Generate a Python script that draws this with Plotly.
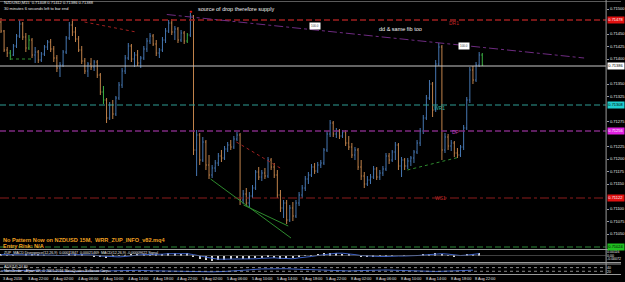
import plotly.graph_objects as go

# ---------------- DATA ----------------
# NZDUSD bars, quotes in points (1 point = 0.00001)
open_pts = [
    71474, 71456, 71418, 71412, 71408, 71426, 71446, 71470, 71444, 71422,
    71438, 71408, 71414, 71398, 71410, 71424, 71434, 71420, 71402, 71382,
    71388, 71414, 71442, 71468, 71454, 71440, 71418, 71396, 71376, 71390,
    71384, 71394, 71368, 71334, 71318, 71282, 71308, 71290, 71322, 71348,
    71376, 71402, 71426, 71400, 71408, 71392, 71402, 71420, 71436, 71446,
    71430, 71412, 71418, 71438, 71456, 71472, 71454, 71460, 71438, 71452,
    71436, 71448, 71486, 71218, 71248, 71198, 71234, 71188, 71168, 71182,
    71192, 71206, 71202, 71220, 71228, 71224, 71240, 71248, 71118, 71130,
    71112, 71126, 71142, 71174, 71164, 71172, 71166, 71198, 71184, 71168,
    71128, 71102, 71112, 71078, 71102, 71086, 71112, 71128, 71142, 71160,
    71168, 71184, 71176, 71188, 71192, 71218, 71250, 71272, 71250, 71256,
    71246, 71254, 71232, 71224, 71208, 71218, 71184, 71166, 71150, 71158,
    71164, 71180, 71164, 71172, 71180, 71206, 71198, 71214, 71228, 71186,
    71198, 71186, 71196, 71202, 71214, 71232, 71256, 71282, 71322, 71350,
    71298, 71390, 71424, 71218, 71244, 71226, 71232, 71212, 71208, 71224,
    71262, 71318, 71378, 71358, 71388, 71408,
]
high_pts = [
    71482, 71458, 71424, 71418, 71430, 71450, 71478, 71474, 71452, 71448,
    71442, 71424, 71418, 71414, 71428, 71438, 71440, 71426, 71408, 71394,
    71418, 71446, 71474, 71480, 71464, 71446, 71426, 71402, 71394, 71402,
    71398, 71398, 71372, 71346, 71322, 71314, 71318, 71326, 71354, 71382,
    71408, 71432, 71430, 71414, 71418, 71406, 71426, 71442, 71452, 71450,
    71438, 71422, 71444, 71462, 71478, 71480, 71466, 71464, 71458, 71456,
    71452, 71492, 71488, 71258, 71252, 71244, 71238, 71208, 71188, 71198,
    71212, 71218, 71226, 71234, 71238, 71246, 71254, 71252, 71138, 71142,
    71134, 71148, 71178, 71184, 71178, 71182, 71204, 71202, 71192, 71178,
    71138, 71118, 71118, 71108, 71114, 71118, 71134, 71148, 71166, 71174,
    71190, 71192, 71194, 71198, 71222, 71256, 71278, 71276, 71262, 71260,
    71258, 71258, 71246, 71232, 71224, 71222, 71198, 71174, 71166, 71170,
    71186, 71184, 71178, 71186, 71212, 71212, 71218, 71234, 71232, 71204,
    71202, 71202, 71206, 71218, 71238, 71262, 71288, 71328, 71358, 71354,
    71398, 71432, 71428, 71252, 71250, 71238, 71236, 71222, 71228, 71268,
    71324, 71384, 71386, 71394, 71414, 71412,
]
low_pts = [
    71452, 71414, 71404, 71398, 71406, 71422, 71442, 71438, 71414, 71418,
    71402, 71392, 71392, 71394, 71406, 71418, 71414, 71394, 71374, 71364,
    71384, 71410, 71438, 71446, 71434, 71414, 71390, 71370, 71364, 71378,
    71376, 71362, 71328, 71310, 71272, 71278, 71280, 71286, 71318, 71342,
    71370, 71398, 71394, 71384, 71386, 71382, 71398, 71414, 71430, 71426,
    71406, 71402, 71414, 71432, 71452, 71448, 71438, 71432, 71434, 71430,
    71432, 71444, 71208, 71166, 71188, 71194, 71178, 71160, 71162, 71174,
    71186, 71194, 71198, 71214, 71218, 71220, 71236, 71108, 71110, 71106,
    71104, 71122, 71138, 71158, 71156, 71160, 71162, 71178, 71162, 71122,
    71094, 71082, 71070, 71074, 71076, 71082, 71106, 71122, 71136, 71150,
    71164, 71170, 71172, 71182, 71188, 71214, 71244, 71244, 71242, 71240,
    71242, 71226, 71218, 71202, 71198, 71178, 71158, 71142, 71146, 71150,
    71160, 71158, 71158, 71166, 71176, 71190, 71194, 71198, 71178, 71164,
    71178, 71180, 71186, 71192, 71210, 71226, 71250, 71278, 71318, 71284,
    71294, 71386, 71198, 71212, 71218, 71216, 71204, 71202, 71204, 71218,
    71258, 71312, 71350, 71354, 71384, 71386,
]
close_pts = [
    71456, 71418, 71412, 71406, 71426, 71446, 71470, 71444, 71422, 71438,
    71408, 71414, 71398, 71410, 71424, 71434, 71420, 71402, 71382, 71388,
    71414, 71442, 71468, 71454, 71440, 71418, 71396, 71376, 71390, 71384,
    71394, 71368, 71334, 71318, 71282, 71308, 71290, 71322, 71348, 71376,
    71402, 71426, 71400, 71408, 71392, 71402, 71420, 71436, 71446, 71430,
    71412, 71418, 71438, 71456, 71472, 71454, 71460, 71438, 71452, 71436,
    71448, 71486, 71218, 71248, 71198, 71234, 71188, 71168, 71182, 71192,
    71206, 71202, 71220, 71228, 71224, 71240, 71248, 71118, 71130, 71112,
    71126, 71142, 71174, 71164, 71172, 71166, 71198, 71184, 71168, 71128,
    71102, 71112, 71078, 71102, 71086, 71112, 71128, 71142, 71160, 71168,
    71184, 71176, 71188, 71192, 71218, 71250, 71272, 71250, 71256, 71246,
    71254, 71232, 71224, 71208, 71218, 71184, 71166, 71150, 71158, 71164,
    71180, 71164, 71172, 71180, 71206, 71198, 71214, 71228, 71186, 71198,
    71186, 71196, 71202, 71214, 71232, 71256, 71282, 71322, 71350, 71298,
    71390, 71424, 71218, 71244, 71226, 71232, 71212, 71208, 71224, 71262,
    71318, 71378, 71358, 71388, 71408, 71388,
]
green_bars = [3, 9, 33, 60, 155]   # bars painted green by the indicator

# time axis labels (one every 8 bars)
time_labels = ["3 Aug 2016", "3 Aug 22:00", "4 Aug 02:00", "4 Aug 06:00", "4 Aug 10:00",
               "4 Aug 14:00", "4 Aug 18:00", "4 Aug 22:00", "5 Aug 02:00", "5 Aug 06:00",
               "5 Aug 10:00", "5 Aug 14:00", "5 Aug 18:00", "5 Aug 22:00", "8 Aug 02:00",
               "8 Aug 06:00", "8 Aug 10:00", "8 Aug 14:00", "8 Aug 18:00", "8 Aug 22:00"]

# MACD histogram / signal (every 2nd bar)
macd_hist = [0.0002, 0.0001, -0.0001, 0.0000, 0.0002, 0.0003, 0.0002, 0.0001, 0.0000, -0.0001,
             0.0001, 0.0003, 0.0004, 0.0002, 0.0000, -0.0002, -0.0004, -0.0005, -0.0003, -0.0001,
             0.0001, 0.0003, 0.0002, 0.0002, 0.0004, 0.0004, 0.0003, 0.0005, 0.0005, 0.0004,
             0.0005, -0.0004, -0.0008, -0.0010, -0.0011, -0.0010, -0.0009, -0.0007, -0.0006, -0.0008,
             -0.0008, -0.0006, -0.0005, -0.0004, -0.0005, -0.0007, -0.0008, -0.0006, -0.0003, -0.0001,
             0.0001, 0.0003, 0.0005, 0.0006, 0.0005, 0.0004, 0.0002, 0.0000, -0.0002, -0.0003,
             -0.0002, -0.0001, -0.0002, -0.0001, 0.0000, -0.0001, 0.0000, 0.0001, 0.0003, 0.0004,
             0.0006, 0.0003, 0.0001, -0.0002, 0.0000, 0.0003, 0.0004, 0.0005]
macd_signal = [0.0002, 0.0002, 0.0001, 0.0001, 0.0001, 0.0002, 0.0002, 0.0002, 0.0001, 0.0000,
               0.0000, 0.0001, 0.0002, 0.0002, 0.0002, 0.0001, -0.0001, -0.0002, -0.0003, -0.0003,
               -0.0002, 0.0000, 0.0001, 0.0002, 0.0002, 0.0003, 0.0003, 0.0004, 0.0004, 0.0004,
               0.0004, 0.0002, -0.0001, -0.0004, -0.0006, -0.0008, -0.0008, -0.0008, -0.0007, -0.0007,
               -0.0008, -0.0007, -0.0006, -0.0005, -0.0005, -0.0006, -0.0007, -0.0007, -0.0005, -0.0004,
               -0.0002, 0.0000, 0.0002, 0.0004, 0.0005, 0.0005, 0.0004, 0.0002, 0.0000, -0.0001,
               -0.0002, -0.0002, -0.0002, -0.0001, -0.0001, -0.0001, -0.0001, 0.0000, 0.0001, 0.0002,
               0.0004, 0.0004, 0.0003, 0.0001, 0.0000, 0.0001, 0.0002, 0.0004]

# ADX(14) (every 4th bar)
adx_values = [22, 24, 25, 23, 21, 19, 18, 20, 22, 24, 26, 25, 23, 21, 20, 19, 18, 17, 19, 22,
              28, 33, 35, 34, 31, 28, 25, 23, 22, 24, 26, 27, 25, 22, 20, 19, 21, 24, 26]

# pivot levels
levels = [  # name, price, colour, dash, width
    ("DR1", 0.71478, "#9E1F1F", "6px,3px", 1.3),
    ("", 0.71386, "#C8C8C8", "solid", 1),
    ("WR1", 0.71308, "#2F9C94", "6px,3px", 1.2),
    ("DP", 0.71256, "#7E2A80", "6px,3px", 1.6),
    ("WS1", 0.71122, "#8C1C1C", "dashdot", 1),
    ("", 0.71024, "#2E8B3A", "6px,3px", 1),
]
tag_colors = ["#E01010", "#FFFFFF", "#20D0D0", "#E020E0", "#E01010", "#20C020"]
tag_text_colors = ["white", "black", "black", "white", "white", "black"]

# ---------------- FIGURE ----------------
to_price = lambda v: v / 1e5
n = len(close_pts)
idx = list(range(n))
main_idx = [i for i in idx if i not in green_bars]

W, H = 625, 282
PLOT_R = 610 / W
def py(y):  # pixel from top -> paper
    return (H - y) / H

fig = go.Figure()
fig.add_trace(go.Ohlc(
    x=main_idx,
    open=[to_price(open_pts[i]) for i in main_idx],
    high=[to_price(high_pts[i]) for i in main_idx],
    low=[to_price(low_pts[i]) for i in main_idx],
    close=[to_price(close_pts[i]) for i in main_idx],
    increasing_line_color="#4677B2", decreasing_line_color="#C0824A",
    line_width=1, tickwidth=0.3, hoverinfo="skip"))
fig.add_trace(go.Ohlc(
    x=green_bars,
    open=[to_price(open_pts[i]) for i in green_bars],
    high=[to_price(high_pts[i]) for i in green_bars],
    low=[to_price(low_pts[i]) for i in green_bars],
    close=[to_price(close_pts[i]) for i in green_bars],
    increasing_line_color="#3CB043", decreasing_line_color="#3CB043",
    line_width=1, tickwidth=0.3, hoverinfo="skip"))

# MACD sub window
mx = [2 * j for j in range(len(macd_hist))]
fig.add_trace(go.Bar(x=mx, y=macd_hist, width=0.45, marker_color="#D8D8D8",
                     marker_line_width=0, xaxis="x", yaxis="y2", hoverinfo="skip"))
fig.add_trace(go.Scatter(x=mx, y=macd_signal, mode="lines", line=dict(color="#3F63C8", width=1),
                         xaxis="x", yaxis="y2", hoverinfo="skip"))
# ADX sub window
ax_ = [4 * j for j in range(len(adx_values))]
fig.add_trace(go.Scatter(x=ax_, y=adx_values, mode="lines", line=dict(color="#3F63C8", width=1),
                         xaxis="x", yaxis="y3", hoverinfo="skip"))

shapes = []
annotations = []
font = "Liberation Sans, Arial"

# pivot level lines + tags
for (name, p, col, dash, wd), tc, ttc in zip(levels, tag_colors, tag_text_colors):
    shapes.append(dict(type="line", xref="paper", yref="y", x0=0, x1=PLOT_R, y0=p, y1=p,
                       line=dict(color=col, width=wd, dash=dash)))
    annotations.append(dict(xref="paper", yref="y", x=611 / W, y=p, xanchor="left", yanchor="middle",
                            text=f"{p:.5f}", showarrow=False, bgcolor=tc, borderpad=0.3,
                            font=dict(size=4, color=ttc, family=font)))
label_pos = {"DR1": (143.7, 0.71472), "WR1": (138.9, 0.71302), "DP": (144.6, 0.71254), "WS1": (139.2, 0.71122)}
label_col = {"DR1": "#C02525", "WR1": "#2FB0A4", "DP": "#C040C0", "WS1": "#C02525"}
for name, p, col, dash, wd in levels:
    if name:
        lx, ly = label_pos[name]
        annotations.append(dict(x=lx, y=ly, xref="x", yref="y", text=name, showarrow=False,
                                xanchor="left", yanchor="middle",
                                font=dict(size=5, color=label_col[name], family=font)))

# trend lines (bar index, price)
trend_lines = [
    ((53.4, 0.71489), (187.8, 0.71402), "#7A3090", "dashdot", 0.9),
    ((26.9, 0.71474), (43.5, 0.71454), "#A02020", "dot", 1),
    ((75.8, 0.71234), (89.9, 0.71182), "#A02020", "dot", 1),
    ((67.5, 0.71160), (93.4, 0.71042), "#2E8B2E", "solid", 1),
    ((78.1, 0.71108), (92.5, 0.71066), "#2E8B2E", "solid", 1),
    ((130.9, 0.71178), (147.8, 0.71204), "#2E8B2E", "dot", 1),
    ((2.9, 0.71400), (10.2, 0.71400), "#2E8B2E", "dot", 1),
]
for (x0, y0), (x1, y1), col, dash, wd in trend_lines:
    shapes.append(dict(type="line", xref="x", yref="y", x0=x0, y0=y0, x1=x1, y1=y1,
                       line=dict(color=col, width=wd, dash=dash)))

# frame / separators
for y, col in [(1.5, "#5A5A5A"), (249.5, "#9A9A9A"), (262.5, "#9A9A9A"), (264, "#9A9A9A"), (274.5, "#9A9A9A")]:
    shapes.append(dict(type="line", xref="paper", yref="paper", x0=0, x1=1, y0=py(y), y1=py(y),
                       line=dict(color=col, width=1)))
shapes.append(dict(type="line", xref="paper", yref="paper", x0=PLOT_R, x1=PLOT_R, y0=py(275), y1=py(0),
                   line=dict(color="#9A9A9A", width=1)))
shapes.append(dict(type="line", xref="paper", yref="paper", x0=0, x1=PLOT_R, y0=py(255.5), y1=py(255.5),
                   line=dict(color="#6A6A6A", width=0.6)))
for lvl in [40, 20]:
    shapes.append(dict(type="line", xref="paper", yref="y3", x0=0, x1=PLOT_R, y0=lvl, y1=lvl,
                       line=dict(color="#B0B0B0", width=0.8, dash="dot")))

# texts
def ptext(x, y, t, size, color="#E8E8E8", bold=False):
    annotations.append(dict(xref="paper", yref="paper", x=x / W, y=py(y), text=f"<b>{t}</b>" if bold else t,
                            showarrow=False, xanchor="left", yanchor="middle",
                            font=dict(size=size, color=color, family=font)))

ptext(2, 3, "NZDUSD,M15  0.71408 0.71412 0.71386 0.71388", 4)
ptext(2, 8, "30 minutes 6 seconds left to bar end", 4)
ptext(1, 239.5, "No Pattern Now on NZDUSD 15M,  WRR_ZUP_INFO_v82.mq4", 5.6, "#F0A020", True)
ptext(1, 245.5, "Entry Risk: N/A", 5.6, "#F0A020", True)
ptext(2, 253, "ZUP_MACD Divergence(12,26,9)  0.00011847  0.00021469  MACD(12,26,9) -0.00009622 Signal", 3.6)
ptext(2, 266.5, "ADX(14) 24.80", 3.6)
ptext(2, 271, "MetaTrader - Alpari UK, \u00a9 2001-2016 MetaQuotes Software Corp.", 3.6)

annotations.append(dict(x=62.7, y=0.71500, xref="x", yref="y", text="source of drop therefore supply",
                        showarrow=False, xanchor="left", yanchor="middle",
                        font=dict(size=5.5, color="#F0F0F0", family=font)))
annotations.append(dict(x=121, y=0.71460, xref="x", yref="y", text="dd & same fib too",
                        showarrow=False, xanchor="left", yanchor="middle",
                        font=dict(size=5.5, color="#F0F0F0", family=font)))
annotations.append(dict(x=61, y=to_price(high_pts[61]) + 0.00004, xref="x", yref="y", text="\u25cf",
                        showarrow=False, font=dict(size=5, color="#E02020", family=font)))
for bx, by in [(101, 0.71466), (149, 0.71427)]:
    annotations.append(dict(x=bx, y=by, xref="x", yref="y", text="100.0", showarrow=False,
                            bgcolor="#FFFFFF", borderpad=1, font=dict(size=3, color="#404040", family=font)))

for i, t in enumerate(time_labels):
    annotations.append(dict(x=8 * i, y=py(278.5), xref="x", yref="paper", text=t, showarrow=False,
                            xanchor="left", yanchor="middle", xshift=0.5,
                            font=dict(size=3.8, color="#E8E8E8", family=font)))

# price scale ticks (hidden where a level tag covers them)
tag_prices = [lv[1] for lv in levels]
price_ticks = [round(0.71025 + 0.00025 * i, 5) for i in range(20)]
price_ticks = [v for v in price_ticks if all(abs(v - tp) > 0.00012 for tp in tag_prices)]

fig.update_layout(
    width=W, height=H, margin=dict(l=0, r=0, t=0, b=0),
    paper_bgcolor="#000000", plot_bgcolor="#000000", showlegend=False,
    bargap=0,
    xaxis=dict(domain=[0, PLOT_R], range=[-0.32, 194.88], showticklabels=False, showgrid=False,
               zeroline=False, showline=False, ticks="", rangeslider=dict(visible=False), fixedrange=True),
    yaxis=dict(domain=[py(249), py(4)], range=[0.71020, 0.71510], side="right", anchor="x",
               tickvals=price_ticks, ticktext=[f"{v:.5f}" for v in price_ticks],
               ticks="outside", ticklen=2, tickcolor="#9A9A9A",
               tickfont=dict(size=4, color="#E8E8E8", family=font),
               showgrid=False, zeroline=False, showline=False, fixedrange=True),
    yaxis2=dict(domain=[py(262), py(250)], range=[-0.0014, 0.0012], side="right", anchor="x",
                tickvals=[0.0009, 0, -0.00072], ticktext=["0.00116", "0.00", "-0.00072"],
                ticks="", tickfont=dict(size=3.5, color="#E8E8E8", family=font),
                showgrid=False, zeroline=False, showline=False, fixedrange=True),
    yaxis3=dict(domain=[py(274), py(264)], range=[5, 60], side="right", anchor="x",
                tickvals=[40, 20], ticktext=["40", "20"], ticks="",
                tickfont=dict(size=3.5, color="#E8E8E8", family=font),
                showgrid=False, zeroline=False, showline=False, fixedrange=True),
    shapes=shapes, annotations=annotations,
)

fig.write_html("out.html")
